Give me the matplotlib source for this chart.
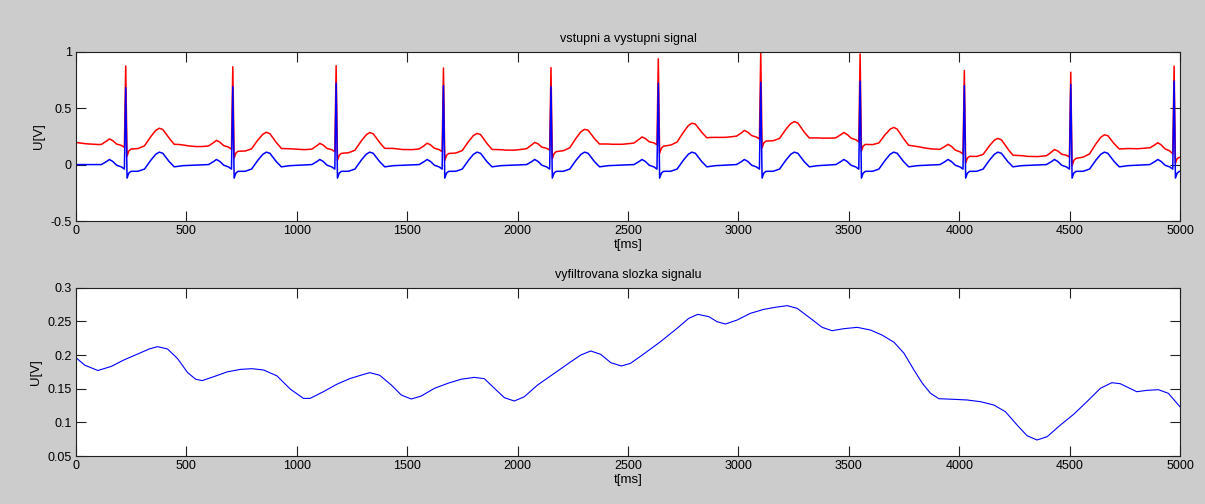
#!/usr/bin/env python3
"""
ECG baseline wander removal - input/output signal and the filtered-out component
"""

import numpy as np
import matplotlib.pyplot as plt
from matplotlib.ticker import FormatStrFormatter, FuncFormatter

plt.rcParams['font.family'] = ['Liberation Sans', 'DejaVu Sans']

# R peak times [ms] and R amplitudes of the output (baseline-free) signal [V]
r_times = [225, 710, 1178, 1664, 2151, 2637, 3101, 3551, 4023, 4505, 4973]
r_amps = [0.68, 0.69, 0.72, 0.70, 0.69, 0.72, 0.73, 0.74, 0.70, 0.71, 0.74]

# one heartbeat of the output signal, offsets relative to the R peak [ms]
beat_dt = [-110, -88, -74, -60, -42, -20, -6, 0, 6, 14, 24, 55, 85,
           110, 135, 152, 168, 195, 220, 255]
beat_v = [0.0, 0.025, 0.045, 0.03, -0.005, -0.02, -0.04, None, -0.12, -0.075,
          -0.06, -0.06, -0.04, 0.03, 0.09, 0.11, 0.10, 0.03, -0.02, -0.01]

# slow baseline component (filtered part of the signal)
base_t = [0, 39, 99, 159, 219, 279, 332, 369, 414, 459, 505, 542, 572, 625,
          685, 745, 797, 850, 910, 970, 1030, 1060, 1120, 1180, 1240, 1290,
          1330, 1375, 1428, 1473, 1518, 1563, 1623, 1684, 1744, 1804, 1849,
          1895, 1940, 1985, 2030, 2090, 2166, 2241, 2286, 2331, 2376, 2422,
          2470, 2511, 2571, 2647, 2722, 2775, 2816, 2866, 2903, 2941, 2994,
          3054, 3115, 3175, 3221, 3266, 3326, 3379, 3424, 3477, 3538, 3598,
          3650, 3705, 3750, 3795, 3833, 3870, 3908, 3976, 4036, 4096, 4157,
          4209, 4262, 4307, 4352, 4398, 4458, 4518, 4578, 4639, 4691, 4729,
          4804, 4849, 4902, 4947, 5000]
base_v = [0.196, 0.185, 0.177, 0.183, 0.193, 0.2015, 0.209, 0.2124, 0.209,
          0.195, 0.174, 0.164, 0.162, 0.168, 0.175, 0.1787, 0.1797, 0.1777,
          0.169, 0.1495, 0.1356, 0.1356, 0.1455, 0.1564, 0.165, 0.170,
          0.1738, 0.170, 0.1554, 0.1406, 0.1347, 0.139, 0.1505, 0.158, 0.164,
          0.1668, 0.1649, 0.1505, 0.1366, 0.1317, 0.138, 0.1554, 0.1728,
          0.190, 0.200, 0.206, 0.201, 0.1886, 0.1837, 0.1876, 0.2015, 0.2198,
          0.2396, 0.2545, 0.2604, 0.257, 0.2495, 0.246, 0.252, 0.2619, 0.2678,
          0.2713, 0.2733, 0.2693, 0.2545, 0.2411, 0.2361, 0.2391, 0.2411,
          0.2371, 0.2297, 0.2188, 0.2025, 0.1777, 0.158, 0.1431, 0.1351,
          0.1342, 0.1332, 0.1307, 0.1257, 0.1158, 0.096, 0.0802, 0.0738,
          0.0787, 0.096, 0.1119, 0.1307, 0.1505, 0.1589, 0.1574, 0.1455,
          0.1475, 0.1485, 0.1431, 0.123]

# build the output signal from the beat shape, 1 ms sampling
pts_t, pts_v = [], []
for tr, ra in zip(r_times, r_amps):
    for dt, v in zip(beat_dt, beat_v):
        pts_t.append(tr + dt)
        pts_v.append(ra if v is None else v)

t = np.arange(0, 5001)
y_out = np.interp(t, pts_t, pts_v)
wander = np.interp(t, base_t, base_v)
y_in = y_out + wander

fig = plt.figure(figsize=(12.05, 5.04), dpi=100)
fig.patch.set_facecolor('#cccccc')

ax1 = fig.add_axes([0.0631, 0.5615, 0.9162, 0.3359])
ax2 = fig.add_axes([0.0631, 0.0952, 0.9162, 0.3340])

ax1.plot(t, y_in, color='red', linewidth=1.1)
ax1.plot(t, y_out, color='blue', linewidth=1.1)
ax1.set_xlim(0, 5000)
ax1.set_ylim(-0.5, 1)
ax1.set_yticks([-0.5, 0, 0.5, 1])
ax1.set_title('vstupni a vystupni signal', fontsize=9, pad=7)

ax2.plot(base_t, base_v, color='blue', linewidth=0.8)
ax2.set_xlim(0, 5000)
ax2.set_ylim(0.05, 0.3)
ax2.set_yticks([0.05, 0.1, 0.15, 0.2, 0.25, 0.3])
ax2.set_title('vyfiltrovana slozka signalu', fontsize=9, pad=7)

for ax in (ax1, ax2):
    ax.set_xticks(np.arange(0, 5001, 500))
    ax.xaxis.set_major_formatter(FormatStrFormatter('%d'))
    ax.yaxis.set_major_formatter(FuncFormatter(lambda v, p: '%g' % round(v, 3)))
    ax.set_xlabel('t[ms]', fontsize=9.5, labelpad=1)
    ax.set_ylabel('U[V]', fontsize=9.5, labelpad=4)
    ax.tick_params(direction='in', length=7, width=0.8, labelsize=9,
                   top=True, right=True, pad=3, color='#202020')
    for s in ax.spines.values():
        s.set_linewidth(0.8)
        s.set_color('#202020')

fig.savefig('out.png', dpi=100, facecolor=fig.get_facecolor())
